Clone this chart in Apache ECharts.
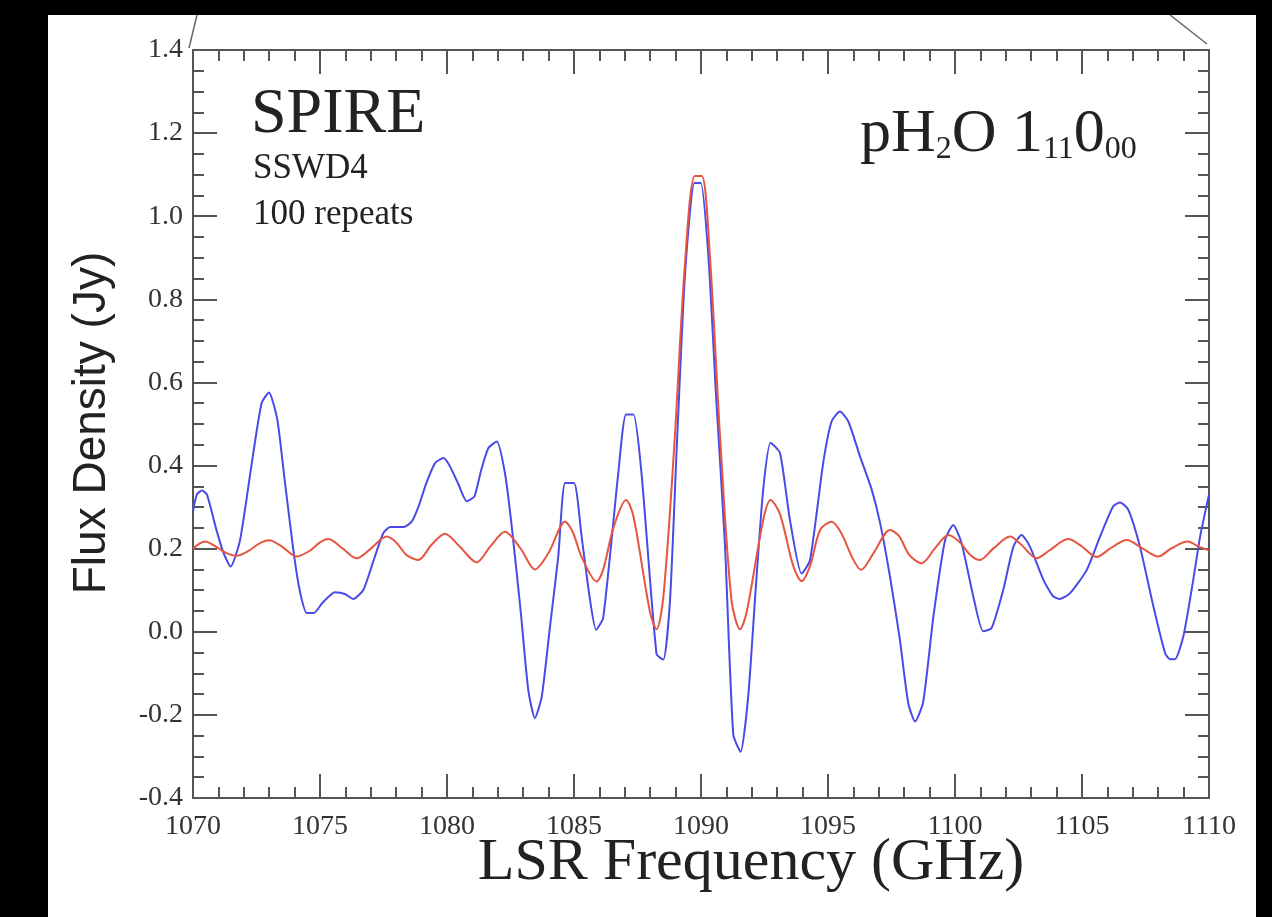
<!DOCTYPE html>
<html><head><meta charset="utf-8">
<script src="https://cdn.jsdelivr.net/npm/echarts@6/dist/echarts.min.js"></script>
<style>
html,body{margin:0;padding:0;background:#000;width:1272px;height:917px;overflow:hidden;}
#chart{position:absolute;left:48px;top:15px;width:1208px;height:902px;background:#fff;}
</style></head><body><div id="chart"></div>
<script>
// ---- data ----
const blueFreq = [1070.0,1070.15,1070.35,1070.55,1070.9,1071.2,1071.48,1071.85,1072.3,1072.7,1072.99,1073.32,1073.6,1073.95,1074.2,1074.48,1074.76,1075.1,1075.59,1075.98,1076.31,1076.71,1077.1,1077.49,1077.76,1078.3,1078.61,1078.87,1079.2,1079.53,1079.86,1080.12,1080.45,1080.78,1081.08,1081.35,1081.63,1081.96,1082.28,1082.55,1082.9,1083.2,1083.46,1083.73,1084.05,1084.38,1084.65,1085.0,1085.3,1085.6,1085.87,1086.15,1086.74,1087.05,1087.34,1087.66,1088.25,1088.52,1088.78,1089.05,1089.37,1089.74,1089.99,1090.29,1090.6,1090.94,1091.27,1091.56,1091.86,1092.15,1092.45,1092.74,1093.11,1093.5,1093.96,1094.29,1094.81,1095.14,1095.47,1095.8,1096.26,1096.72,1097.05,1097.44,1097.83,1098.16,1098.43,1098.75,1099.15,1099.61,1099.93,1100.26,1100.72,1101.11,1101.44,1101.9,1102.3,1102.62,1102.95,1103.48,1103.87,1104.13,1104.53,1105.19,1105.71,1106.23,1106.5,1106.82,1107.28,1107.81,1108.27,1108.46,1108.66,1108.99,1109.38,1109.65,1110.0];
const blueFlux = [0.29,0.33,0.34,0.33,0.25,0.19,0.157,0.22,0.40,0.55,0.576,0.51,0.37,0.197,0.10,0.045,0.045,0.07,0.095,0.091,0.079,0.101,0.17,0.237,0.252,0.252,0.265,0.30,0.36,0.406,0.418,0.398,0.355,0.314,0.326,0.39,0.442,0.458,0.382,0.253,0.05,-0.14,-0.208,-0.156,0.01,0.181,0.358,0.358,0.229,0.09,0.005,0.034,0.38,0.523,0.523,0.38,-0.054,-0.067,0.076,0.45,0.859,1.08,1.08,0.905,0.56,0.214,-0.247,-0.289,-0.155,0.10,0.343,0.455,0.43,0.27,0.14,0.172,0.406,0.506,0.530,0.506,0.422,0.342,0.262,0.133,-0.019,-0.172,-0.216,-0.168,0.037,0.221,0.257,0.213,0.085,0.001,0.009,0.101,0.205,0.233,0.205,0.125,0.085,0.079,0.093,0.149,0.229,0.302,0.311,0.294,0.205,0.061,-0.051,-0.066,-0.066,-0.011,0.125,0.229,0.33];
const redFreq = [1070.0,1070.47,1070.9,1071.3,1071.72,1072.2,1072.6,1073.0,1073.5,1074.08,1074.6,1075.0,1075.33,1075.9,1076.44,1077.0,1077.62,1078.0,1078.4,1078.87,1079.4,1079.92,1080.5,1081.17,1081.7,1082.28,1082.9,1083.46,1084.0,1084.65,1084.95,1085.3,1085.89,1086.15,1086.55,1087.05,1087.34,1087.99,1088.25,1088.52,1088.95,1089.37,1089.76,1090.03,1090.35,1090.75,1091.2,1091.54,1091.8,1092.45,1092.74,1093.11,1093.63,1093.96,1094.3,1094.69,1095.14,1095.5,1096.0,1096.3,1096.8,1097.44,1097.8,1098.2,1098.69,1099.2,1099.74,1100.2,1100.6,1100.98,1101.5,1102.17,1102.6,1103.22,1103.7,1104.46,1105.0,1105.58,1106.1,1106.76,1107.4,1108.0,1108.5,1109.16,1109.6,1110.0];
const redFlux = [0.200,0.217,0.205,0.19,0.183,0.195,0.212,0.220,0.205,0.181,0.195,0.215,0.223,0.200,0.177,0.20,0.229,0.215,0.185,0.173,0.21,0.236,0.205,0.167,0.205,0.241,0.20,0.150,0.19,0.265,0.24,0.18,0.121,0.15,0.25,0.317,0.278,0.048,0.006,0.085,0.45,0.887,1.097,1.097,0.905,0.47,0.076,0.006,0.048,0.269,0.317,0.283,0.159,0.122,0.16,0.245,0.265,0.24,0.173,0.149,0.19,0.245,0.23,0.185,0.165,0.20,0.233,0.215,0.185,0.173,0.20,0.229,0.21,0.177,0.195,0.223,0.205,0.180,0.20,0.221,0.20,0.181,0.20,0.217,0.205,0.196];
const xRange = {min: 1070, max: 1110, interval: 5};
const yRange = {min: -0.4, max: 1.4, interval: 0.2};
const xTitle = 'LSR Frequency (GHz)';
const yTitle = 'Flux Density (Jy)';

const SERIF = '"Liberation Serif","Times New Roman",serif';
const SANS = '"Liberation Sans",Arial,sans-serif';
const AX = '#555';

function pairs(xs, ys){ return xs.map((x,i)=>[x, ys[i]]); }

function xAx(pos, labels){
  return {type:'value', position:pos, min:xRange.min, max:xRange.max, interval:xRange.interval,
    axisLine:{onZero:false, lineStyle:{color:AX, width:2}},
    axisTick:{inside:true, length:24, lineStyle:{color:AX, width:2}},
    minorTick:{show:true, splitNumber:5, length:11, lineStyle:{color:AX, width:2}},
    splitLine:{show:false}, minorSplitLine:{show:false},
    axisLabel:{show:labels, fontFamily:SERIF, fontSize:28, color:'#333', margin:15,
      formatter:v=>String(Math.round(v))}};
}
function yAx(pos, labels){
  return {type:'value', position:pos, min:yRange.min, max:yRange.max, interval:yRange.interval,
    axisLine:{onZero:false, lineStyle:{color:AX, width:2}},
    axisTick:{inside:true, length:24, lineStyle:{color:AX, width:2}},
    minorTick:{show:true, splitNumber:4, length:11, lineStyle:{color:AX, width:2}},
    splitLine:{show:false}, minorSplitLine:{show:false},
    axisLabel:{show:labels, fontFamily:SERIF, fontSize:28, color:'#333', margin:10,
      formatter:v=>v.toFixed(1)}};
}

const chart = echarts.init(document.getElementById('chart'), null, {renderer:'canvas'});
chart.setOption({
  animation:false,
  backgroundColor:'#fff',
  grid:{left:145, right:47, top:35, bottom:119},
  xAxis:[xAx('bottom', true), xAx('top', false)],
  yAxis:[yAx('left', true), yAx('right', false)],
  series:[
    {type:'line', xAxisIndex:0, yAxisIndex:0, data:pairs(blueFreq, blueFlux), showSymbol:false,
     smooth:0.2, lineStyle:{color:'#4a4ae6', width:2}, z:3},
    {type:'line', xAxisIndex:0, yAxisIndex:0, data:pairs(redFreq, redFlux), showSymbol:false,
     smooth:0.3, lineStyle:{color:'#e65540', width:2}, z:4}
  ],
  graphic:[
    {type:'line', shape:{x1:141, y1:33, x2:149, y2:0}, style:{stroke:'#666', lineWidth:1.5}},
    {type:'line', shape:{x1:1159, y1:29, x2:1122, y2:0}, style:{stroke:'#666', lineWidth:1.5}},
    {type:'text', x:203, y:100, style:{text:'SPIRE', font:'64px '+SERIF, fill:'#222', textAlign:'left', textVerticalAlign:'middle'}},
    {type:'text', x:205, y:154, style:{text:'SSWD4', font:'35px '+SERIF, fill:'#222', textAlign:'left', textVerticalAlign:'middle'}},
    {type:'text', x:205, y:200, style:{text:'100 repeats', font:'35px '+SERIF, fill:'#222', textAlign:'left', textVerticalAlign:'middle'}},
    {type:'text', x:812, y:120, style:{
      text:'{m|pH}{s|2}{m|O 1}{s|11}{m|0}{s|00}',
      textAlign:'left', textVerticalAlign:'middle',
      rich:{
        m:{fontFamily:SERIF, fontSize:62, lineHeight:62, fill:'#222', color:'#222'},
        s:{fontFamily:SERIF, fontSize:32, lineHeight:32, verticalAlign:'bottom', fill:'#222', color:'#222'}
      }}},
    {type:'text', x:703, y:848, style:{text:xTitle, font:'60px '+SERIF, fill:'#222', textAlign:'center', textVerticalAlign:'middle'}},
    {type:'text', x:44, y:408, rotation:Math.PI/2, style:{text:yTitle, font:'46px '+SANS, fill:'#222', textAlign:'center', textVerticalAlign:'middle'}}
  ]
});
</script></body></html>
